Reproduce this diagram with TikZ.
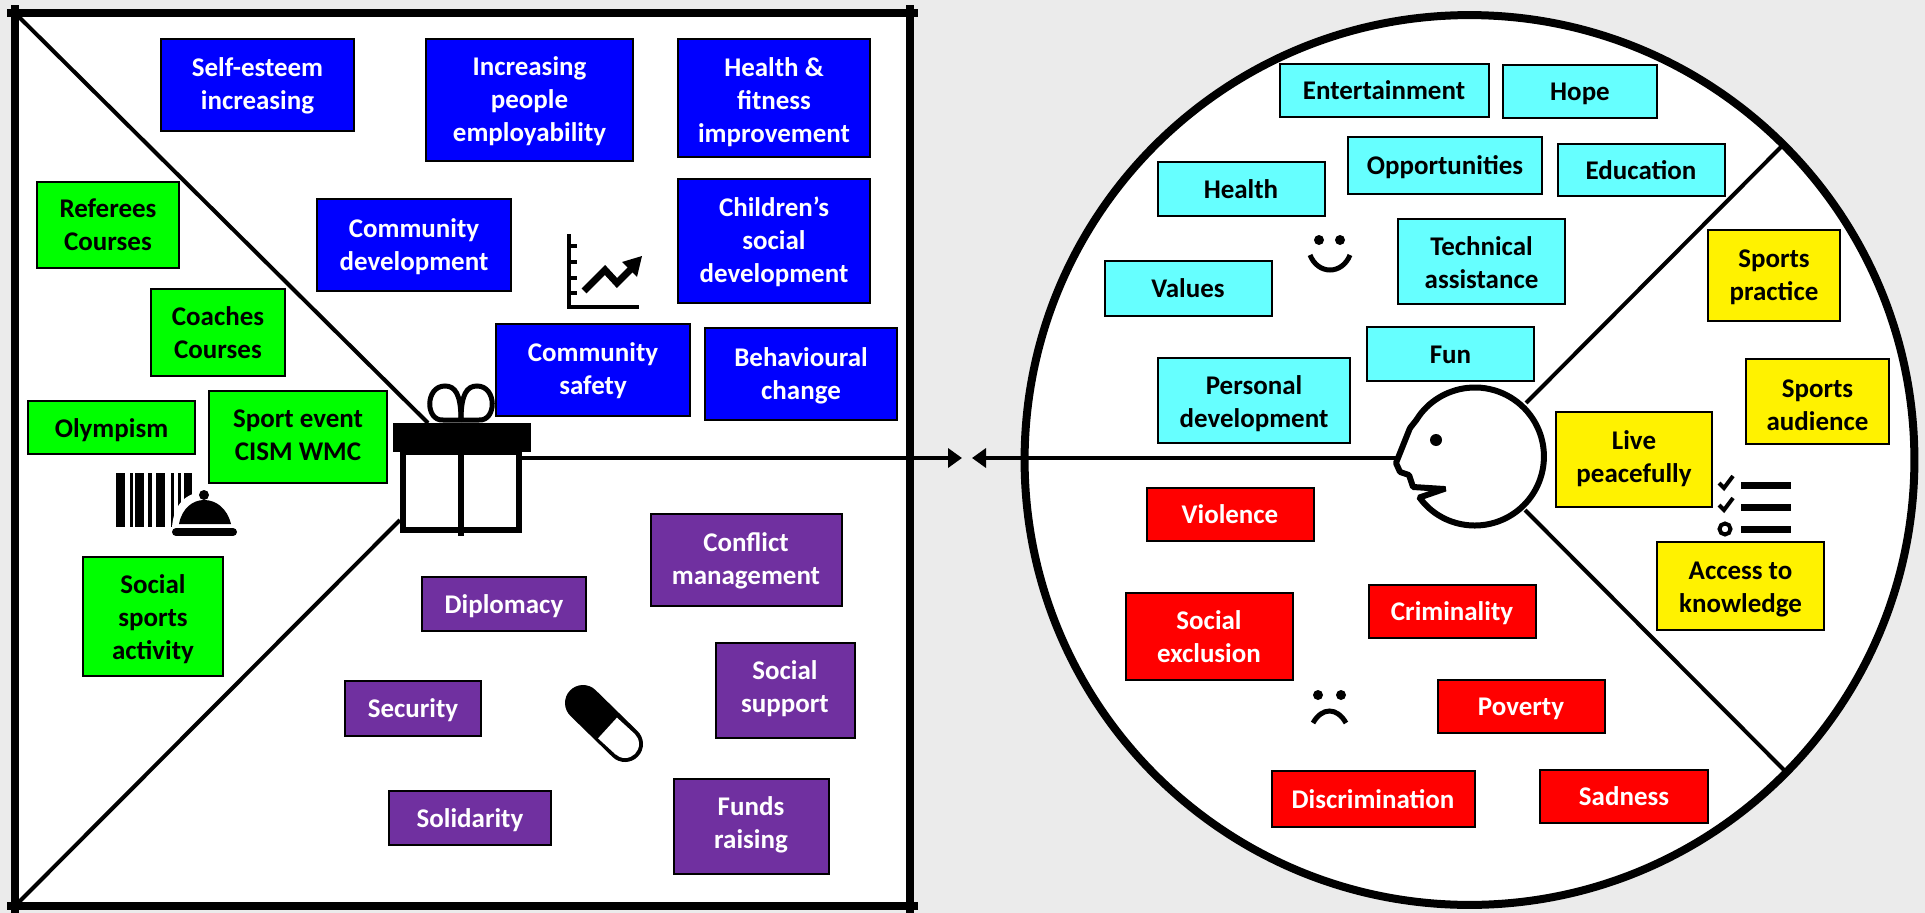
\documentclass[tikz,border=0pt]{standalone}
\usepackage{fontspec}
\setmainfont{Carlito}
\usetikzlibrary{arrows.meta}

\definecolor{pagegrey}{HTML}{EBEBEB}
\definecolor{skyfill}{HTML}{66FFFF}
\definecolor{plumfill}{HTML}{7030A0}
\newcommand{\tagstrut}{\rule[-.28em]{0pt}{1.28em}}

\tikzset{
  wh/.style 2 args={minimum width=#1*.02cm,minimum height=#2*.02cm},
  tagbox/.style={draw=black,line width=.04cm,inner sep=0,align=center,font=\fontsize{15.35}{18.8}\selectfont\bfseries,execute at begin node=\tagstrut,execute at end node=\tagstrut},
  stacked/.style={execute at begin node=\rule{0pt}{#1em}},
  stacked/.default=2.17,
  bluetag/.style={tagbox,fill=blue,text=white},
  greentag/.style={tagbox,fill=green},
  plumtag/.style={tagbox,fill=plumfill,text=white},
  skytag/.style={tagbox,fill=skyfill},
  yellowtag/.style={tagbox,fill=yellow},
  redtag/.style={tagbox,fill=red,text=white},
  framing/.style={line width=.16cm,shorten >=-.16cm,shorten <=-.16cm},
  spoke/.style={line width=.08cm},
  icon/.style={line width=.1cm}
}

\begin{document}
\begin{tikzpicture}[x=.02cm,y=-.02cm]

\useasboundingbox (0,0) rectangle (1925,913);
\fill [pagegrey] (0,0) rectangle (1925,913);

\fill [white] (15,13) rectangle (910,906);
\draw [fill=white,line width=.16cm] (1469.5,460) circle (8.9cm);

\coordinate (squareNW) at (15,13);
\coordinate (squareNE) at (910,13);
\coordinate (squareSW) at (15,906);
\coordinate (squareSE) at (910,906);
\coordinate (giftTop) at (428,423);
\coordinate (giftSide) at (400,520);
\coordinate (giftRight) at (522,458);
\coordinate (tipLeft) at (962,458);
\coordinate (tipRight) at (972,458);
\coordinate (noseLine) at (1398,458);
\coordinate (headUp) at (1526,403);
\coordinate (headDown) at (1525,510);
\coordinate (rimUp) at (1783,145);
\coordinate (rimDown) at (1787,773);

\draw [spoke] (squareNW) -- (giftTop);
\draw [spoke] (squareSW) -- (giftSide);
\draw [spoke] (headUp) -- (rimUp);
\draw [spoke] (headDown) -- (rimDown);
\draw [spoke,arrows=-{Triangle[length=.28cm,width=.38cm]}] (giftRight) -- (tipLeft);
\draw [spoke,arrows=-{Triangle[length=.28cm,width=.38cm]}] (noseLine) -- (tipRight);

\draw [framing] (squareNW) -- (squareNE);
\draw [framing] (squareNE) -- (squareSE);
\draw [framing] (squareSE) -- (squareSW);
\draw [framing] (squareSW) -- (squareNW);

\node [bluetag,stacked=2.08,wh={193}{92}] (selfesteem) at (257.5,85) {Self-esteem\\increasing};
\node [bluetag,stacked=3.39,wh={207}{122}] (employ) at (529.5,100) {Increasing\\people\\employability};
\node [bluetag,stacked=3.57,wh={192}{118}] (fitness) at (774,98) {Health \&\\fitness\\improvement};
\node [bluetag,stacked=3.39,wh={192}{124}] (children) at (774,241) {Children’s\\social\\development};
\node [bluetag,stacked,wh={194}{92}] (commdev) at (414,245) {Community\\development};
\node [bluetag,stacked=2.08,wh={194}{92}] (safety) at (593,370) {Community\\safety};
\node [bluetag,stacked,wh={192}{92}] (change) at (801,374) {Behavioural\\change};

\node [greentag,stacked,wh={142}{86}] (referees) at (108,225) {Referees\\Courses};
\node [greentag,stacked=2.26,wh={134}{87}] (coaches) at (218,332) {Coaches\\Courses};
\node [greentag,wh={167}{53}] (olympism) at (111.5,427.5) {Olympism};
\node [greentag,stacked=2.04,wh={178}{92}] (event) at (298,437) {Sport event\\CISM WMC};
\node [greentag,stacked=3.48,wh={140}{119}] (socialsports) at (153,616) {Social\\sports\\activity};

\node [plumtag,stacked=2.08,wh={191}{92}] (conflict) at (746,560) {Conflict\\management};
\node [plumtag,wh={164}{54}] (diplomacy) at (504,604) {Diplomacy};
\node [plumtag,stacked=1.95,wh={139}{95}] (support) at (785,690) {Social\\support};
\node [plumtag,wh={136}{55}] (security) at (413,708) {Security};
\node [plumtag,wh={162}{54}] (solidarity) at (470,818) {Solidarity};
\node [plumtag,stacked=1.95,wh={155}{95}] (funds) at (751,826) {Funds\\raising};

\node [skytag,wh={209}{53}] (entertainment) at (1384,90) {Entertainment};
\node [skytag,wh={154}{53}] (hope) at (1580,91) {Hope};
\node [skytag,wh={194}{57}] (opportunities) at (1445,165) {Opportunities};
\node [skytag,wh={167}{52}] (education) at (1641,170) {Education};
\node [skytag,wh={167}{54}] (health) at (1241,189) {Health};
\node [skytag,stacked=2.35,wh={167}{85}] (technical) at (1481.5,261) {Technical\\assistance};
\node [skytag,wh={167}{55}] (values) at (1188,288) {Values};
\node [skytag,wh={167}{54}] (fun) at (1450.5,354) {Fun};
\node [skytag,stacked=2.35,wh={192}{85}] (personal) at (1254,400) {Personal\\development};

\node [yellowtag,stacked,wh={132}{91}] (practice) at (1774,275) {Sports\\practice};
\node [yellowtag,stacked=2.49,wh={143}{85}] (audience) at (1817.5,401) {Sports\\audience};
\node [yellowtag,stacked=2.04,wh={156}{95}] (peace) at (1634,459) {Live\\peacefully};
\node [yellowtag,stacked=2.26,wh={167}{88}] (knowledge) at (1740.5,586) {Access to\\knowledge};

\node [redtag,wh={167}{53}] (violence) at (1230,514) {Violence};
\node [redtag,stacked=2.26,wh={167}{87}] (exclusion) at (1209,636) {Social\\exclusion};
\node [redtag,wh={167}{53}] (criminality) at (1452,611) {Criminality};
\node [redtag,wh={167}{53}] (poverty) at (1521,706) {Poverty};
\node [redtag,wh={203}{56}] (discrimination) at (1373,799) {Discrimination};
\node [redtag,wh={168}{53}] (sadness) at (1624,796) {Sadness};

\draw [fill=white,icon,line width=.11cm] (403,452) rectangle (519,530);
\fill [black] (393,423) rectangle (531,452);
\draw [icon,line width=.12cm] (461,423) -- (461,536);
\draw [icon] (461,420) -- (443,420) .. controls (425,421) and (425,386) .. (445,386) .. controls (455,386) and (461,394) .. (461,420);
\draw [icon] (461,420) -- (479,420) .. controls (497,421) and (497,386) .. (477,386) .. controls (467,386) and (461,394) .. (461,420);

\fill [black] (116,473) rectangle (125,527);
\fill [black] (130,473) rectangle (133,527);
\fill [black] (135,473) rectangle (144,527);
\fill [black] (148,473) rectangle (152,527);
\fill [black] (156,473) rectangle (165,527);
\fill [black] (171,473) rectangle (174,527);
\fill [black] (178,473) rectangle (181,527);
\fill [black] (184,473) rectangle (192,527);
\fill [white] (172,528) .. controls (174,494) and (198,492) .. (204,492) .. controls (221,492) and (235,510) .. (238,528) -- cycle;
\fill [black] (179,524) .. controls (182,508) and (193,500) .. (204,500) .. controls (216,500) and (227,508) .. (231,524) -- cycle;
\fill [black] (204,495) circle (.1cm);
\draw [line width=.16cm,line cap=round] (176,532) -- (233,532);

\draw [line width=.09cm] (569,234) -- (569,307) -- (639,307);
\foreach \yy in {246,262,278,293}
  \draw [line width=.09cm] (569,\yy) -- (577,\yy);
\draw [line width=.14cm] (584,291) -- (605,270) -- (617,283) -- (632,268);
\fill [black] (642,256) -- (622,262) -- (637,277) -- cycle;

\draw [line width=.72cm,line cap=round] (583,703) -- (625,744);
\draw [white,line width=.56cm] (607.5,728) -- (625,744);
\fill [white] (625,744) circle (.28cm);

\fill [black] (1319,240) circle (.1cm);
\fill [black] (1340,240) circle (.1cm);
\draw [icon] (1310,255) .. controls (1318,275) and (1342,275) .. (1350,255);

\fill [black] (1318,695) circle (.1cm);
\fill [black] (1341,695) circle (.1cm);
\draw [icon] (1313,723) .. controls (1322,707) and (1337,707) .. (1346,723);

\draw [icon,line width=.08cm] (1719,483) -- (1724,488) -- (1733,476);
\draw [icon,line width=.08cm] (1719,505) -- (1724,510) -- (1733,498);
\draw [icon,line width=.08cm] (1725,529) circle (.11cm);
\foreach \yy in {485,507,529}
  \fill [black] (1741,\yy-3.5) rectangle (1791,\yy+3.5);

\draw [fill=white,icon,line width=.12cm,rounded corners=.02cm] (1419.5,497.5) arc [start angle=216.5,end angle=508,radius=1.38cm]
  -- (1410,428) -- (1396,463) -- (1400,472) -- (1409,475) -- (1413,487) -- (1444,489) -- cycle;
\fill [black] (1436,440) circle (.12cm);

\end{tikzpicture}
\end{document}
